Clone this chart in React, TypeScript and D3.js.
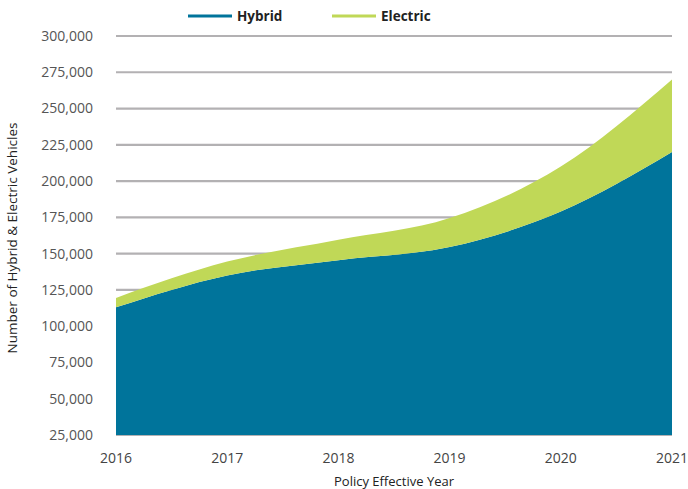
import React from "react";
import * as d3 from "d3";

const years = [2016, 2017, 2018, 2019, 2020, 2021];
const hybrid = [113000, 135000, 145500, 154500, 179000, 220000];
const electric = [6500, 9500, 14000, 20000, 31000, 50000];
const yTicks = [25000, 50000, 75000, 100000, 125000, 150000, 175000, 200000, 225000, 250000, 275000, 300000];
const seriesNames = ["Hybrid", "Electric"];
const seriesColors = ["#00749b", "#c0d857"];

const W = 688, H = 489;
const left = 116, right = 672, top = 36, bottom = 435;
const font = "'Open Sans', sans-serif";

export default function App() {
  const x = d3.scaleLinear().domain([2016, 2021]).range([left, right]);
  const y = d3.scaleLinear().domain([25000, 300000]).range([bottom, top]);
  const rows = years.map((yr, i) => ({ year: yr, Hybrid: hybrid[i], Electric: electric[i] }));
  const stack = d3.stack<any>().keys(seriesNames).value((d, k) => d[k]);
  const stacked = stack(rows);
  const area = d3.area<any>()
    .x((d) => x(d.data.year))
    .y0((d) => y(Math.max(d[0], 25000)))
    .y1((d) => y(d[1]))
    .curve(d3.curveMonotoneX);
  const fmt = d3.format(",");
  return (
    <svg width={W} height={H} style={{ position: "absolute", left: 0, top: 0 }}>
      <rect width={W} height={H} fill="#fff" />
      {yTicks.map((t) => (
        <g key={t}>
          <line x1={left} x2={right} y1={y(t)} y2={y(t)} stroke="#b3b1b3" strokeWidth={2.2} />
          <text x={93} y={y(t)} dy="0.35em" textAnchor="end" fontFamily={font} fontSize={14} fill="#555">{fmt(t)}</text>
        </g>
      ))}
      {stacked.map((s, i) => (
        <path key={s.key} d={area(s) || ""} fill={seriesColors[i]} />
      ))}
      {years.map((yr) => (
        <text key={yr} x={x(yr)} y={463} textAnchor="middle" fontFamily={font} fontSize={14} fill="#444">{yr}</text>
      ))}
      <text x={394} y={486} textAnchor="middle" fontFamily={font} fontSize={13} fill="#222">Policy Effective Year</text>
      <text transform={`translate(17,238) rotate(-90)`} textAnchor="middle" fontFamily={font} fontSize={13.5} fill="#222">Number of Hybrid &amp; Electric Vehicles</text>
      {seriesNames.map((n, i) => (
        <g key={n} transform={`translate(${188 + i * 144},16)`}>
          <line x1={0} x2={44} y1={0} y2={0} stroke={seriesColors[i]} strokeWidth={3} />
          <text x={49} y={0} dy="0.35em" fontFamily={font} fontSize={13.5} fontWeight="bold" fill="#222">{n}</text>
        </g>
      ))}
    </svg>
  );
}
